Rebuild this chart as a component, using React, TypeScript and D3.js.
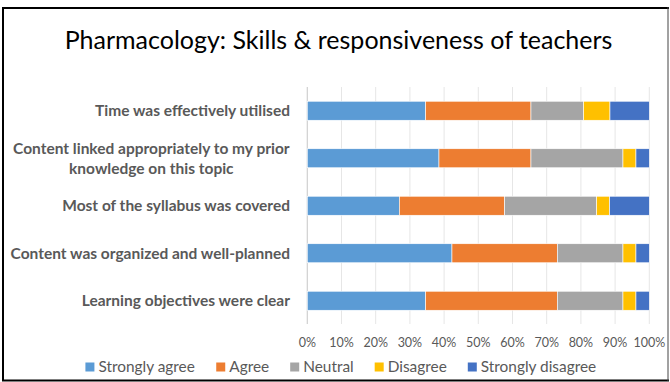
import React from "react";
import * as d3 from "d3";

const categories = [
  "Time was effectively utilised",
  "Content linked appropriately to my prior\nknowledge on this topic",
  "Most of the syllabus was covered",
  "Content was organized and well-planned",
  "Learning objectives were clear",
];
const seriesNames = ["Strongly agree", "Agree", "Neutral", "Disagree", "Strongly disagree"];
const stronglyAgree = [34.6, 38.5, 26.9, 42.3, 34.6];
const agree = [30.8, 26.9, 30.8, 30.8, 38.5];
const neutral = [15.4, 26.9, 26.9, 19.2, 19.2];
const disagree = [7.7, 3.8, 3.8, 3.8, 3.8];
const stronglyDisagree = [11.5, 3.9, 11.6, 3.9, 3.9];
const colors = ["#5B9BD5", "#ED7D31", "#A5A5A5", "#FFC000", "#4472C4"];
const xTicks = [0, 10, 20, 30, 40, 50, 60, 70, 80, 90, 100];
const title = "Pharmacology: Skills & responsiveness of teachers";

const W = 670;
const H = 382;
const FONT = "Lato, 'Open Sans', sans-serif";

function measure(text: string, font: string) {
  const c = document.createElement("canvas").getContext("2d")!;
  c.font = font;
  return c.measureText(text).width;
}

export default function App() {
  const rows = categories.map((c, i) => ({
    cat: c,
    v: [stronglyAgree[i], agree[i], neutral[i], disagree[i], stronglyDisagree[i]],
  }));
  const stack = d3
    .stack<any, number>()
    .keys([0, 1, 2, 3, 4])
    .value((d, k) => d.v[k]);
  const series = stack(rows);

  const x = d3.scaleLinear().domain([0, 100]).range([307.3, 649.3]);
  const y = d3
    .scaleBand<string>()
    .domain(categories)
    .range([87, 324.5])
    .paddingInner(0.6)
    .paddingOuter(0.3);

  const legendSize = 15.4;
  const legendFont = `${legendSize}px Lato`;
  const sq = 9;
  const gapSq = 4;
  const gapItem = 21;
  const widths = seriesNames.map((s) => sq + gapSq + measure(s, legendFont));
  const total = d3.sum(widths) + gapItem * (seriesNames.length - 1);
  let lx = 341 - total / 2;
  const legendItems = seriesNames.map((s, i) => {
    const item = { name: s, x: lx, color: colors[i] };
    lx += widths[i] + gapItem;
    return item;
  });
  const legendY = 367;
  const labelSize = 15.5;
  const labelFont = `bold ${labelSize}px Lato`;
  const labelRight = 290;

  return (
    <svg
      width={W}
      height={H}
      style={{ position: "absolute", left: 0, top: 0, background: "#fff" }}
    >
      <rect x={0} y={0} width={W} height={H} fill="#fff" />
      {/* frame */}
      <line x1={2} x2={669} y1={8} y2={8} stroke="#000" strokeWidth={2} />
      <line x1={3} x2={3} y1={7} y2={381} stroke="#000" strokeWidth={2} />
      <line x1={2} x2={669} y1={380.5} y2={380.5} stroke="#000" strokeWidth={2} />
      <line x1={668} x2={668} y1={7} y2={381} stroke="#444" strokeWidth={1} />

      <text
        x={338.5}
        y={49}
        textAnchor="middle"
        fontFamily={FONT}
        fontSize={25}
        fill="#000"
      >
        {title}
      </text>

      {/* gridlines */}
      {xTicks.map((t) => (
        <line
          key={t}
          x1={x(t)}
          x2={x(t)}
          y1={87}
          y2={324}
          stroke={t === 0 ? "#d0d0d0" : "#e6e6e6"}
          strokeWidth={t === 0 ? 1.2 : 1}
        />
      ))}

      {/* bars */}
      {series.map((s, si) =>
        s.map((d, i) => (
          <rect
            key={si + "-" + i}
            x={x(d[0])}
            y={y(categories[i])}
            width={x(d[1]) - x(d[0])}
            height={y.bandwidth()}
            fill={colors[si]}
            stroke="#fff"
            strokeWidth={0.6}
          />
        ))
      )}

      {/* x tick labels */}
      {xTicks.map((t) => (
        <text
          key={t}
          x={x(t)}
          y={346.5}
          textAnchor="middle"
          fontFamily={FONT}
          fontSize={12.5}
          fill="#595959"
        >
          {t + "%"}
        </text>
      ))}

      {/* category labels */}
      {categories.map((c) => {
        const lines = c.split("\n");
        const cy = (y(c) as number) + y.bandwidth() / 2;
        const lh = 20;
        const y0 = cy - ((lines.length - 1) * lh) / 2;
        const multi = lines.length > 1;
        const maxW = d3.max(lines, (l) => measure(l, labelFont)) || 0;
        const ax = multi ? labelRight - maxW / 2 : labelRight;
        return (
          <text
            key={c}
            textAnchor={multi ? "middle" : "end"}
            fontFamily={FONT}
            fontSize={labelSize}
            fontWeight="bold"
            fill="#595959"
          >
            {lines.map((l, k) => (
              <tspan key={k} x={ax} y={y0 + k * lh} dy="0.35em">
                {l}
              </tspan>
            ))}
          </text>
        );
      })}

      {/* legend */}
      {legendItems.map((it) => (
        <g key={it.name}>
          <rect x={it.x} y={legendY - sq / 2} width={sq} height={sq} fill={it.color} />
          <text
            x={it.x + sq + gapSq}
            y={legendY}
            dy="0.35em"
            fontFamily={FONT}
            fontSize={legendSize}
            fill="#595959"
          >
            {it.name}
          </text>
        </g>
      ))}
    </svg>
  );
}
